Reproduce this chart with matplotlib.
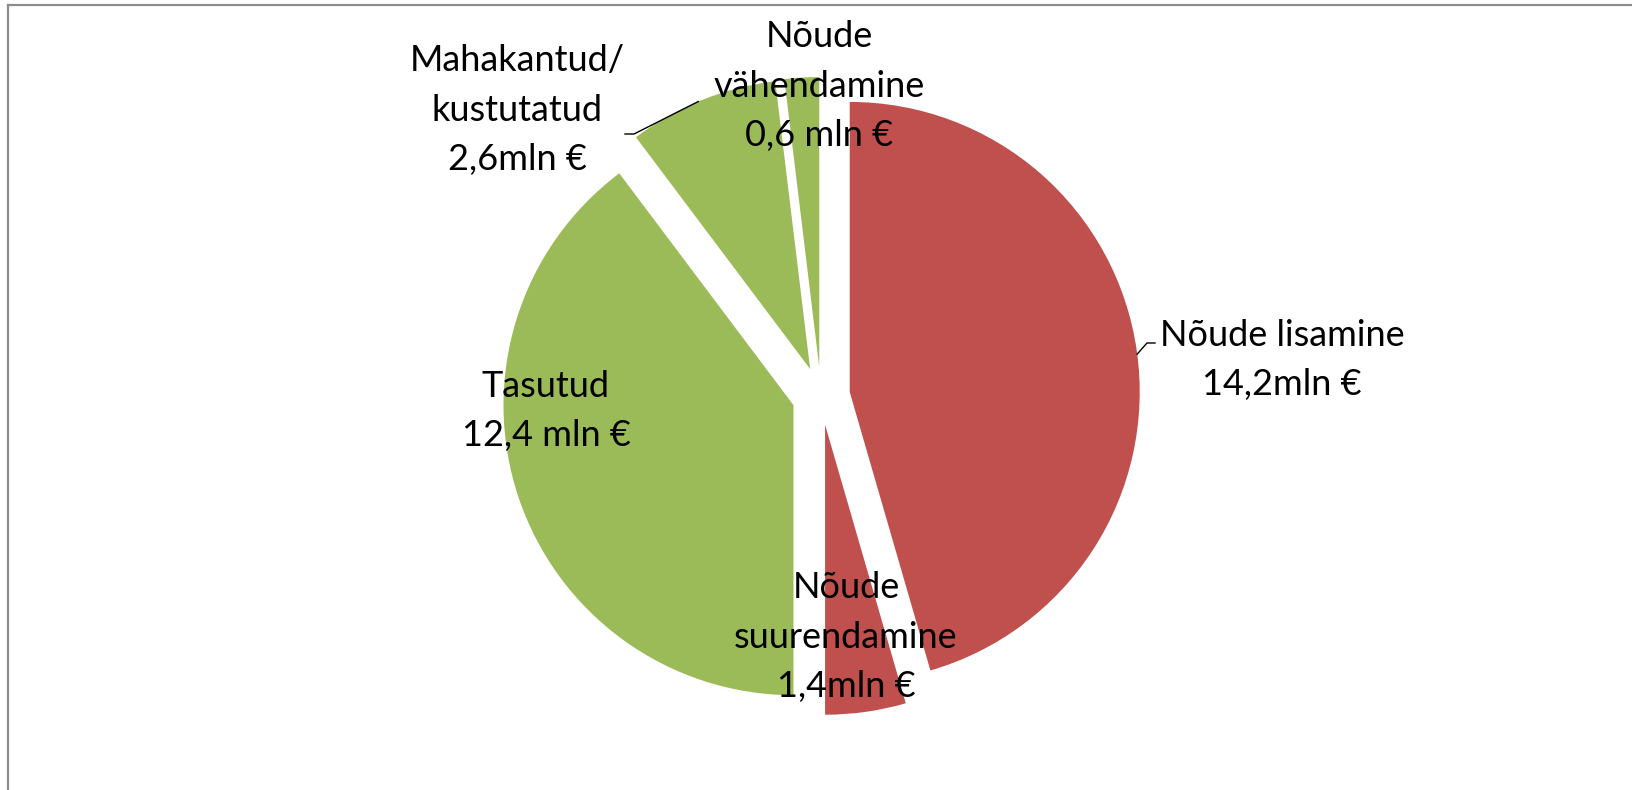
import matplotlib
matplotlib.use("Agg")
import matplotlib.pyplot as plt
import numpy as np
from matplotlib.lines import Line2D

# ---- data ----
categories = ["Nõude lisamine", "Nõude suurendamine", "Tasutud",
              "Mahakantud/kustutatud", "Nõude vähendamine"]
values = [14.2, 1.4, 12.4, 2.6, 0.6]
label_texts = ["Nõude lisamine\n14,2mln €",
               "Nõude\nsuurendamine\n1,4mln €",
               "Tasutud\n12,4 mln €",
               "Mahakantud/\nkustutatud\n2,6mln €",
               "Nõude\nvähendamine\n0,6 mln €"]
colors = ["#C0504D", "#C0504D", "#9BBB59", "#9BBB59", "#9BBB59"]

# ---- layout (pixels) ----
W, H = 1632, 790
Cx, Cy, R = 821, 396, 290
label_pos_px = [(1282, 360), (846, 637), (546, 411), (517, 110), (819, 86)]

plt.rcParams['font.family'] = ['Lato', 'DejaVu Sans']

fig = plt.figure(figsize=(W / 100, H / 100), dpi=100)
ax = fig.add_axes([0, 0, 1, 1])

def px2d(px, py):
    return ((px - Cx) / R, (Cy - py) / R)

wedges, _ = ax.pie(values, colors=colors, explode=[0.1] * len(values),
                   startangle=90, counterclock=False, radius=1,
                   wedgeprops=dict(linewidth=0))
ax.set_xlim(-Cx / R, (W - Cx) / R)
ax.set_ylim(-(H - Cy) / R, Cy / R)
ax.set_aspect('auto')
ax.axis('off')

for txt, (px, py) in zip(label_texts, label_pos_px):
    x, y = px2d(px, py)
    ax.text(x, y, txt, ha='center', va='center', multialignment='center',
            fontsize=26, color='black', linespacing=1.62)

# leader lines
def arc_point(w, ang):
    cx, cy = w.center
    a = np.deg2rad(ang)
    return cx + w.r * np.cos(a), cy + w.r * np.sin(a)

p0 = arc_point(wedges[0], 7.5)
e1 = px2d(1147, 343)
e2 = px2d(1155, 343)
ax.plot([p0[0], e1[0], e2[0]], [p0[1], e1[1], e2[1]], color='black', lw=1.0)

p3 = arc_point(wedges[3], 112.7)
f1 = px2d(634, 134)
f2 = px2d(625, 134)
ax.plot([p3[0], f1[0], f2[0]], [p3[1], f1[1], f2[1]], color='black', lw=1.0)

# chart area border (top and left visible)
fig.add_artist(Line2D([8 / W, 1.0], [1 - 5 / H, 1 - 5 / H], color='#8c8c8c', lw=1.6,
                      transform=fig.transFigure))
fig.add_artist(Line2D([8 / W, 8 / W], [0.0, 1 - 5 / H], color='#8c8c8c', lw=1.6,
                      transform=fig.transFigure))

fig.savefig("out.png", dpi=100, facecolor='white')
